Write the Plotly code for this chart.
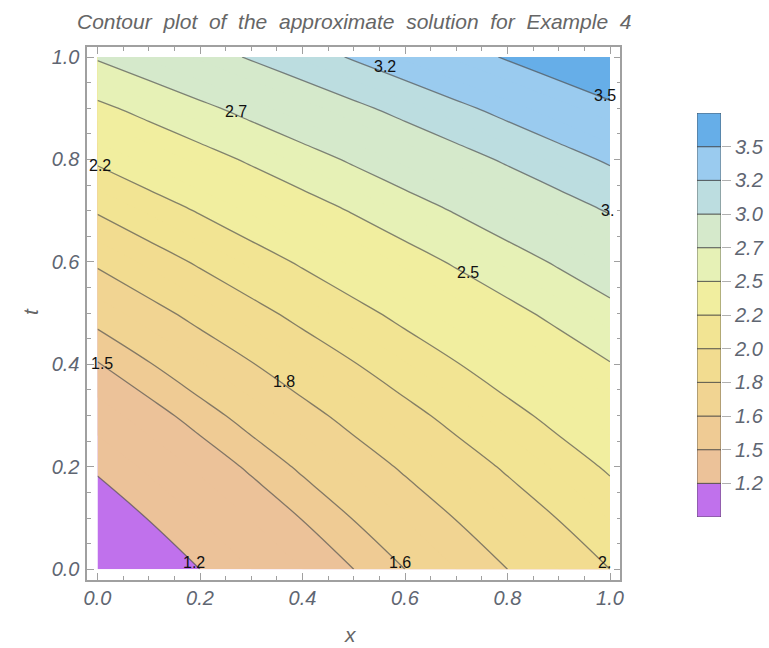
import plotly.graph_objects as go

# ---- data ----
x_vals = [0.0, 0.1, 0.2, 0.3, 0.4, 0.5, 0.6, 0.7, 0.8, 0.9, 1.0]
t_vals = [0.0, 0.1, 0.2, 0.3, 0.4, 0.5, 0.6, 0.7, 0.8, 0.9, 1.0]
# u(x, t): one row per t value, one column per x value
u_rows = [
    [1.000, 1.100, 1.200, 1.300, 1.400, 1.500, 1.600, 1.700, 1.800, 1.900, 2.000],
    [1.105, 1.205, 1.305, 1.405, 1.505, 1.605, 1.705, 1.805, 1.905, 2.005, 2.105],
    [1.221, 1.321, 1.421, 1.521, 1.621, 1.721, 1.821, 1.921, 2.021, 2.121, 2.221],
    [1.350, 1.450, 1.550, 1.650, 1.750, 1.850, 1.950, 2.050, 2.150, 2.250, 2.350],
    [1.492, 1.592, 1.692, 1.792, 1.892, 1.992, 2.092, 2.192, 2.292, 2.392, 2.492],
    [1.649, 1.749, 1.849, 1.949, 2.049, 2.149, 2.249, 2.349, 2.449, 2.549, 2.649],
    [1.822, 1.922, 2.022, 2.122, 2.222, 2.322, 2.422, 2.522, 2.622, 2.722, 2.822],
    [2.014, 2.114, 2.214, 2.314, 2.414, 2.514, 2.614, 2.714, 2.814, 2.914, 3.014],
    [2.226, 2.326, 2.426, 2.526, 2.626, 2.726, 2.826, 2.926, 3.026, 3.126, 3.226],
    [2.460, 2.560, 2.660, 2.760, 2.860, 2.960, 3.060, 3.160, 3.260, 3.360, 3.460],
    [2.718, 2.818, 2.918, 3.018, 3.118, 3.218, 3.318, 3.418, 3.518, 3.618, 3.718],
]
levels = [1.2, 1.5, 1.6, 1.8, 2.0, 2.2, 2.5, 2.7, 3.0, 3.2, 3.5]
bar_tick_text = ["1.2", "1.5", "1.6", "1.8", "2.0", "2.2", "2.5", "2.7", "3.0", "3.2", "3.5"]
line_label_text = ["1.2", "1.5", "1.6", "1.8", "2.", "2.2", "2.5", "2.7", "3.", "3.2", "3.5"]
band_index = list(range(12))
band_height = [1] * 12

# ---- styles / label anchor positions ----
band_colors = ["#c071ec", "#ecc299", "#efcb94", "#f1d492", "#f2dc90", "#f2e493",
               "#f1ee9f", "#e6f1b6", "#d5e9cb", "#bcdde0", "#9acbef", "#66aee8"]
label_x = [0.188, 0.008, 0.590, 0.364, 0.990, 0.004, 0.722, 0.270, 0.995, 0.560, 0.990]
label_t = [0.014, 0.402, 0.014, 0.367, 0.014, 0.789, 0.580, 0.893, 0.700, 0.982, 0.924]

FIG_W, FIG_H = 769, 648
start, end, step = 1.2, 3.5, 0.1
lo, hi = start - step / 2, end + step / 2


def norm(v):
    return (v - lo) / (hi - lo)


scale = [[0.0, band_colors[0]]]
for i, L in enumerate(levels):
    b = norm(L)
    scale.append([b, band_colors[i]])
    scale.append([b, band_colors[i + 1]])
scale.append([1.0, band_colors[-1]])

fig = go.Figure()
fig.add_trace(go.Contour(
    x=x_vals, y=t_vals, z=u_rows,
    autocontour=False,
    contours=dict(start=start, end=end, size=step, coloring="fill", showlines=False),
    colorscale=scale, showscale=False, line=dict(width=0),
    hoverinfo="skip",
))
for L in levels:
    fig.add_trace(go.Contour(
        x=x_vals, y=t_vals, z=u_rows,
        autocontour=False,
        contours=dict(start=L, end=L + step / 2, size=step, coloring="none", showlines=True),
        line=dict(color="rgba(80,80,80,0.68)", width=1.3),
        showscale=False, hoverinfo="skip",
    ))

# colour key drawn as stacked bars
fig.add_trace(go.Bar(
    x=[0] * 12, y=band_height, base=band_index, width=1,
    marker=dict(color=band_colors, line=dict(color="rgba(60,60,60,0.7)", width=1)),
    xaxis="x2", yaxis="y2", hoverinfo="skip", showlegend=False,
))

for txt, lx, lt in zip(line_label_text, label_x, label_t):
    fig.add_annotation(x=lx, y=lt, xref="x", yref="y", text=txt, showarrow=False,
                       xanchor="center", yanchor="middle",
                       font=dict(family="Liberation Sans", size=16, color="#111111"))

tick_font = dict(family="Liberation Sans", size=20, color="#5f6672", style="italic")
ax_common = dict(
    showgrid=False, zeroline=False, showline=True, linecolor="#a0a0a0", linewidth=1.5,
    mirror="allticks", ticks="inside", ticklen=7, tickcolor="#a0a0a0", tickwidth=1.2,
    tickformat=".1f", dtick=0.2, tick0=0, tickfont=tick_font, range=[-0.02, 1.02],
    automargin=False,
    minor=dict(dtick=0.05, ticks="inside", ticklen=4, tickcolor="#a0a0a0", tickwidth=1),
)

fig.update_layout(
    width=FIG_W, height=FIG_H,
    margin=dict(l=0, r=0, t=0, b=0, autoexpand=False),
    paper_bgcolor="white", plot_bgcolor="white",
    showlegend=False, barmode="overlay",
    xaxis=dict(domain=[87.25 / FIG_W, 620.25 / FIG_W], anchor="y", **ax_common),
    yaxis=dict(domain=[1 - 579.5 / FIG_H, 1 - 46.75 / FIG_H], anchor="x",
               ticklabelstandoff=2, **ax_common),
    xaxis2=dict(domain=[697 / FIG_W, 721 / FIG_W], anchor="y2", range=[-0.5, 0.5],
                visible=False, fixedrange=True, automargin=False),
    yaxis2=dict(domain=[1 - 517 / FIG_H, 1 - 113 / FIG_H], anchor="x2", range=[0, 12],
                side="right", showgrid=False, zeroline=False, showline=False,
                automargin=False,
                tickmode="array", tickvals=list(range(1, 12)), ticktext=bar_tick_text,
                ticks="outside", ticklen=9, tickcolor="#b0b0b0", tickfont=tick_font),
)

title_font = dict(family="Liberation Sans", size=21, color="#666666", style="italic")
fig.add_annotation(x=354 / FIG_W, y=1 - 21 / FIG_H, xref="paper", yref="paper",
                   xanchor="center", yanchor="middle",
                   text="Contour\u00a0 plot\u00a0 of\u00a0 the\u00a0 approximate\u00a0 solution"
                        "\u00a0 for\u00a0 Example\u00a0 4",
                   showarrow=False, font=title_font)
fig.add_annotation(x=350 / FIG_W, y=1 - 634 / FIG_H, xref="paper", yref="paper", text="x",
                   xanchor="center", yanchor="middle", showarrow=False, font=title_font)
fig.add_annotation(x=31 / FIG_W, y=1 - 312 / FIG_H, xref="paper", yref="paper", text="t",
                   xanchor="center", yanchor="middle", showarrow=False, textangle=-90,
                   font=title_font)

fig.write_html("out.html", config={"displayModeBar": False},
               post_script="document.body.style.margin='0';document.body.style.padding='0';")
